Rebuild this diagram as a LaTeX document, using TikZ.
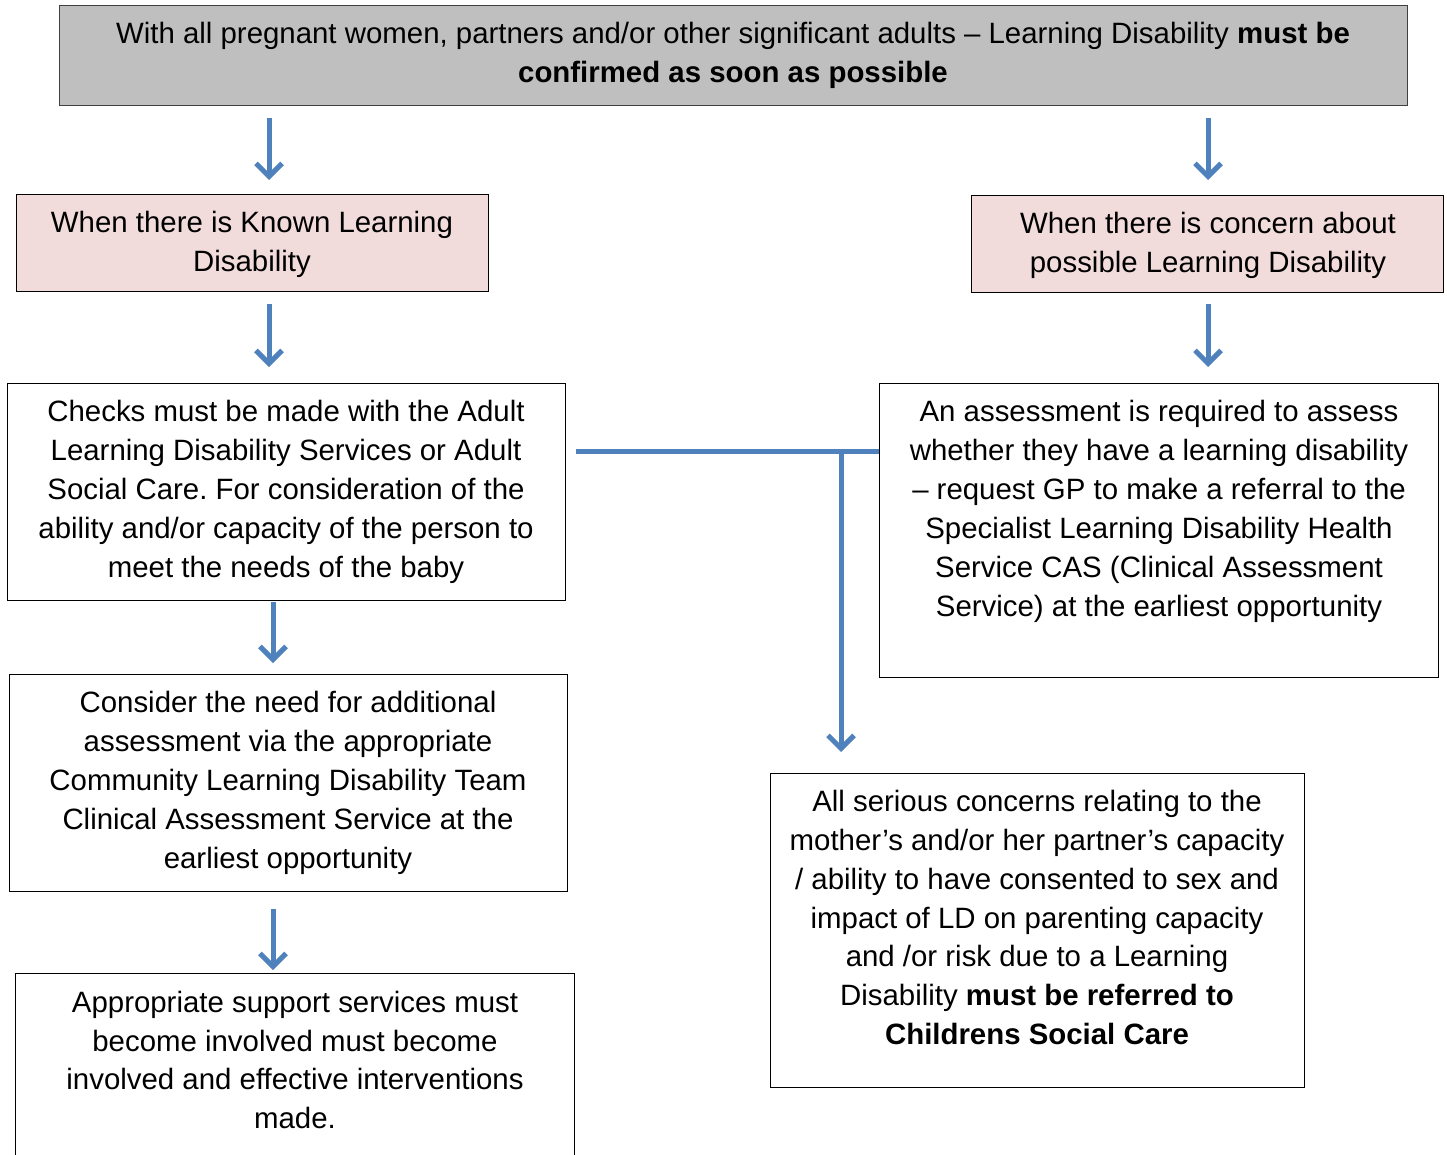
\documentclass[tikz,border=0pt]{standalone}
\usepackage{fontspec}
\setmainfont{Liberation Sans}
\usetikzlibrary{arrows.meta}
\definecolor{lineblue}{HTML}{4F81BD}
\definecolor{topgray}{HTML}{BFBFBF}
\definecolor{pinkfill}{HTML}{F2DCDB}
\frenchspacing
\begin{document}
\begin{tikzpicture}[x=1pt,y=-1pt,
  box/.style={draw=black, line width=1.2pt, minimum width=#1, anchor=north west, inner sep=0pt},
  txt/.style={align=center, inner sep=0pt, font=\fontsize{29.4}{39}\selectfont},
  conn/.style={draw=lineblue, line width=5pt},
  arr/.style={conn, -{Straight Barb[length=13pt,width=26pt]}}]
\useasboundingbox (0,0) rectangle (1447,1154);
\fill[white] (0,0) rectangle (1447,1154);
% boxes
\node[box=1348pt, minimum height=100pt, fill=topgray, draw=black!75] (top) at (59,5) {};
\node[box=472pt, minimum height=97pt, fill=pinkfill] (known) at (16,194) {};
\node[box=472pt, minimum height=97pt, fill=pinkfill] (concern) at (971,195) {};
\node[box=558pt, minimum height=217pt] (checks) at (7,383) {};
\node[box=559pt, minimum height=294pt] (assess) at (879,383) {};
\node[box=558pt, minimum height=217pt] (consider) at (9,674) {};
\node[box=559pt, minimum height=200pt] (approp) at (15,973) {};
\node[box=534pt, minimum height=314pt] (serious) at (770,773) {};
% texts
\node[txt] (ttop) at (733,55.5) {With all pregnant women, partners and/or other significant adults -- Learning Disability \textbf{must be}\\\textbf{confirmed as soon as possible}};
\node[txt] (tknown) at (252,244.5) {When there is Known Learning\\Disability};
\node[txt] (tconcern) at (1208,245.5) {When there is concern about\\possible Learning Disability};
\node[txt] (tchecks) at (286,492) {Checks must be made with the Adult\\Learning Disability Services or Adult\\Social Care. For consideration of the\\ability and/or capacity of the person to\\meet the needs of the baby};
\node[txt] (tassess) at (1159,511.5) {An assessment is required to assess\\whether they have a learning disability\\-- request GP to make a referral to the\\Specialist Learning Disability Health\\Service CAS (Clinical Assessment\\Service) at the earliest opportunity};
\node[txt] (tconsider) at (288,783) {Consider the need for additional\\assessment via the appropriate\\Community Learning Disability Team\\Clinical Assessment Service at the\\earliest opportunity};
\node[txt, font=\fontsize{29.4}{38.7}\selectfont] (tapprop) at (295,1060) {Appropriate support services must\\become involved must become\\involved and effective interventions\\made.};
\node[txt, font=\fontsize{29.4}{38.8}\selectfont] (tserious) at (1037,917.5) {All serious concerns relating to the\\mother’s and/or her partner’s capacity\\/ ability to have consented to sex and\\impact of LD on parenting capacity\\and /or risk due to a Learning\\Disability \textbf{must be referred to}\\\textbf{Childrens Social Care}};
% arrows
\draw[arr, shorten <=12pt, shorten >=14pt] (top.south -| 269,0) -- (known.north -| 269,0);
\draw[arr, shorten <=12pt, shorten >=15pt] (top.south -| 1208,0) -- (concern.north -| 1208,0);
\draw[arr, shorten <=12pt, shorten >=16pt] (known.south -| 269,0) -- (checks.north -| 269,0);
\draw[arr, shorten <=11pt, shorten >=16pt] (concern.south -| 1208,0) -- (assess.north -| 1208,0);
\draw[arr, shorten <=1pt, shorten >=11pt] (checks.south -| 273,0) -- (consider.north -| 273,0);
\draw[arr, shorten <=17pt, shorten >=3pt] (consider.south -| 273,0) -- (approp.north -| 273,0);
\coordinate (junction) at (841,451);
\draw[conn, shorten <=10pt] (checks.east |- junction) -- (assess.west |- junction);
\draw[arr, shorten >=21pt] (junction) -- (serious.north -| junction);
\end{tikzpicture}
\end{document}
